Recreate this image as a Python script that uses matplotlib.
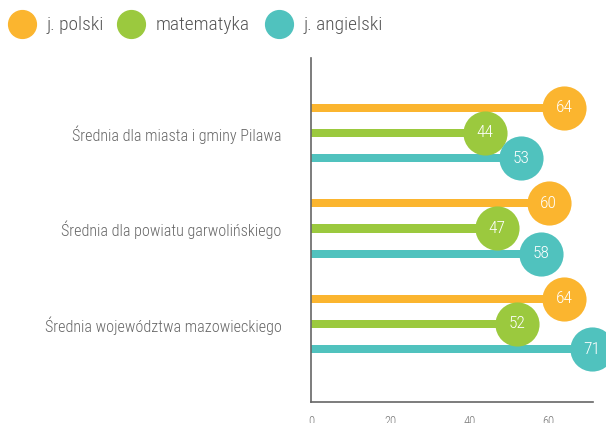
import matplotlib
matplotlib.use("Agg")
import matplotlib.pyplot as plt
from matplotlib import font_manager

# Condensed family if present, otherwise plain Roboto
family = "Roboto"
for cand in ["Roboto Condensed", "Open Sans Condensed", "Liberation Sans Narrow", "DejaVu Sans Condensed"]:
    try:
        font_manager.findfont(cand, fallback_to_default=False)
        family = cand
        break
    except Exception:
        pass
plt.rcParams["font.family"] = [family, "DejaVu Sans"]
plt.rcParams["font.weight"] = "light"

categories = [
    "Średnia dla miasta i gminy Pilawa",
    "Średnia dla powiatu garwolińskiego",
    "Średnia województwa mazowieckiego",
]
series_names = ["j. polski", "matematyka", "j. angielski"]
polski = [64, 60, 64]
matematyka = [44, 47, 52]
angielski = [53, 58, 71]
x_ticks = [0, 20, 40, 60]

colors = ["#FBB52F", "#9BC93E", "#50C2BE"]
values = [polski, matematyka, angielski]

W, H = 606, 423
fig = plt.figure(figsize=(W / 100, H / 100), dpi=100)
ax = fig.add_axes([311 / W, (H - 402) / H, (593 - 311) / W, (402 - 58) / H])

offsets = [-0.265, 0.0, 0.265]
for vals, col, off in zip(values, colors, offsets):
    ys = [i + off for i in range(len(categories))]
    ax.barh(ys, vals, height=0.085, color=col, zorder=2)
    ax.scatter(vals, ys, s=1010, color=col, zorder=3, clip_on=False, linewidths=0)
    for v, y in zip(vals, ys):
        ax.text(v, y, str(v), ha="center", va="center", color="white",
                fontsize=12.5, fontweight="light", zorder=4, clip_on=False)

ax.set_xlim(0, 71.2)
ax.set_ylim(2.817, -0.785)
ax.set_yticks(range(len(categories)))
ax.set_yticklabels(categories, fontsize=11.6, color="#666666", fontweight="light")
ax.set_xticks(x_ticks)
ax.set_xticklabels([str(t) for t in x_ticks], fontsize=9, color="#777777", fontweight="light")
ax.tick_params(axis="y", length=0, pad=21)
ax.tick_params(axis="x", length=0, pad=9)
for s in ["top", "right"]:
    ax.spines[s].set_visible(False)
for s in ["left", "bottom"]:
    ax.spines[s].set_color("#666666")
    ax.spines[s].set_linewidth(1.2)

# legend row along the top
leg_x = [22, 131, 279]
for lx, name, col in zip(leg_x, series_names, colors):
    fig.add_artist(plt.Line2D([lx / W], [(H - 24) / H], marker="o", markersize=20,
                              color=col, linestyle="none", transform=fig.transFigure))
    fig.text((lx + 25) / W, (H - 25) / H, name, ha="left", va="center",
             fontsize=14, color="#555555", fontweight="light")

fig.savefig("out.png", dpi=100)
